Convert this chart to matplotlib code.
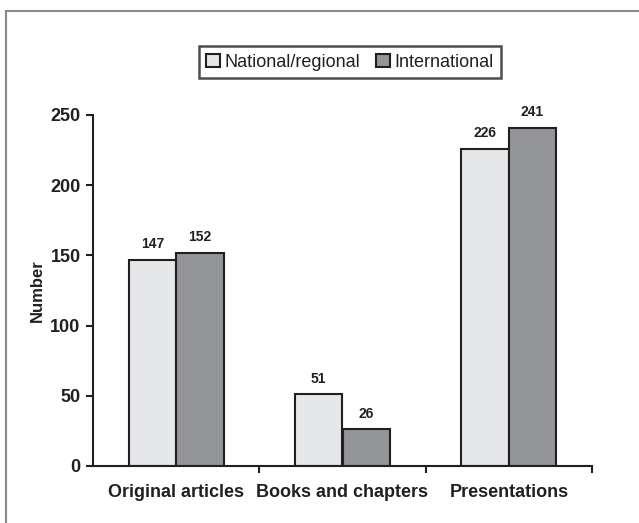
import matplotlib
matplotlib.use("Agg")
import numpy as np
import matplotlib.pyplot as plt
from matplotlib.lines import Line2D

plt.rcParams['font.family'] = ['Liberation Sans', 'DejaVu Sans']

categories = ["Original articles", "Books and chapters", "Presentations"]
national = [147, 51, 226]
international = [152, 26, 241]
series_names = ["National/regional", "International"]

W, H = 639, 523
fig = plt.figure(figsize=(W / 100, H / 100), dpi=100)
# axes box in pixels: x 93..592, y 115..466
ax = fig.add_axes([93 / W, 1 - 466 / H, (592 - 93) / W, (466 - 115) / H])

x = np.arange(len(categories))
w = 0.285
ink = "#231f20"
b1 = ax.bar(x - w / 2, national, w, color="#e6e7e8", edgecolor=ink, linewidth=1.5, label=series_names[0])
b2 = ax.bar(x + w / 2, international, w, color="#939598", edgecolor=ink, linewidth=1.5, label=series_names[1])

for bars in (b1, b2):
    for r in bars:
        ax.annotate(str(int(r.get_height())), (r.get_x() + r.get_width() / 2, r.get_height()),
                    xytext=(0, 6), textcoords="offset points", ha="center", va="bottom",
                    fontsize=10, fontweight="bold", color=ink)

ax.set_xlim(-0.5, 2.5)
ax.set_ylim(0, 250)
ax.set_yticks([0, 50, 100, 150, 200, 250])
ax.set_xticks(x)
ax.set_xticklabels(categories, fontsize=13, fontweight="bold", color=ink)
ax.set_xticks([0.5, 1.5, 2.5], minor=True)
ax.tick_params(axis="x", which="major", length=0, pad=13)
ax.tick_params(axis="x", which="minor", length=5, width=1.5, direction="out", color=ink)
ax.tick_params(axis="y", length=5, width=1.5, labelsize=13, colors=ink, pad=4)
for lab in ax.get_yticklabels():
    lab.set_fontweight("bold")
ax.set_ylabel("Number", fontsize=12, fontweight="bold", color=ink, labelpad=4)

for s in ["top", "right"]:
    ax.spines[s].set_visible(False)
for s in ["left", "bottom"]:
    ax.spines[s].set_linewidth(1.5)
    ax.spines[s].set_color(ink)

leg = fig.legend(loc="center", bbox_to_anchor=(350 / W, 1 - 62 / H), ncol=2, frameon=True, fancybox=False,
                 fontsize=13, handlelength=0.75, handleheight=0.75, handletextpad=0.25, columnspacing=0.9,
                 borderpad=0.42, borderaxespad=0)
leg.get_frame().set_edgecolor(ink)
leg.get_frame().set_linewidth(1.8)
for t in leg.get_texts():
    t.set_color(ink)

# grey frame: only top and left edges are visible in the picture
fig.add_artist(Line2D([6 / W, 1], [1 - 11 / H, 1 - 11 / H], transform=fig.transFigure, color="#8a8a8a", linewidth=1.5))
fig.add_artist(Line2D([6 / W, 6 / W], [0, 1 - 11 / H], transform=fig.transFigure, color="#8a8a8a", linewidth=1.5))

fig.savefig("out.png", dpi=100)
